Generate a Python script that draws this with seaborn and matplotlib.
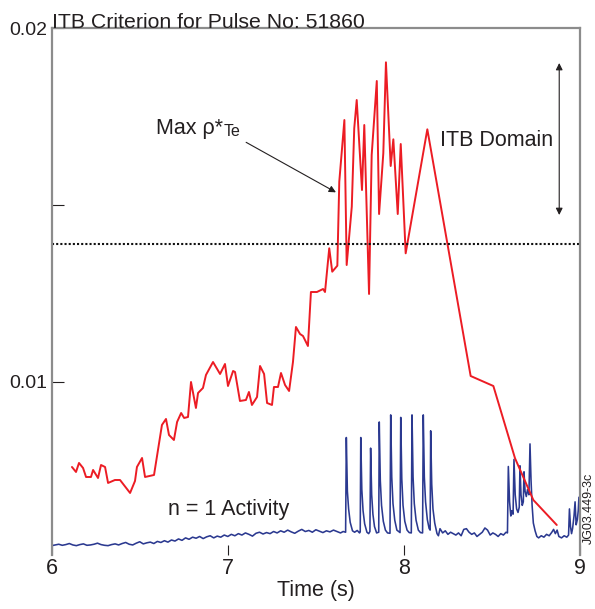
import numpy as np
import pandas as pd
import matplotlib
matplotlib.use("Agg")
import matplotlib.pyplot as plt
import seaborn as sns

# ---------------- data ----------------
# Max rho*_Te criterion (values in units of 1e-3)
red_t = [6.115, 6.138, 6.155, 6.178, 6.195, 6.223, 6.235, 6.263, 6.280, 6.303,
         6.320, 6.359, 6.388, 6.445, 6.473, 6.484, 6.513, 6.530, 6.581, 6.626,
         6.649, 6.666, 6.694, 6.712, 6.735, 6.752, 6.774, 6.791, 6.819, 6.831,
         6.859, 6.876, 6.916, 6.956, 6.984, 7.001, 7.030, 7.041, 7.069, 7.103,
         7.120, 7.137, 7.166, 7.183, 7.206, 7.223, 7.251, 7.262, 7.285, 7.302,
         7.325, 7.348, 7.370, 7.387, 7.410, 7.427, 7.455, 7.472, 7.506, 7.541,
         7.552, 7.576, 7.593, 7.622, 7.633, 7.662, 7.675, 7.704, 7.718, 7.732,
         7.762, 7.775, 7.802, 7.817, 7.846, 7.859, 7.883, 7.898, 7.925, 7.940,
         7.965, 7.982, 8.010, 8.133, 8.379, 8.508, 8.631, 8.735, 8.868]
red_v_e3 = [7.586, 7.445, 7.700, 7.558, 7.303, 7.303, 7.502, 7.275, 7.643, 7.586,
            7.134, 7.218, 7.218, 6.851, 7.190, 7.586, 7.841, 7.303, 7.360, 8.775,
            8.945, 8.492, 8.350, 8.860, 9.114, 8.973, 9.001, 9.992, 9.256, 9.680,
            9.822, 10.190, 10.557, 10.218, 10.501, 9.878, 10.303, 10.275, 9.454, 9.482,
            9.709, 9.341, 9.567, 10.444, 10.218, 9.397, 9.341, 9.850, 9.850, 10.246,
            9.907, 9.737, 10.557, 11.548, 11.350, 11.293, 11.010, 12.538, 12.538, 12.623,
            12.538, 13.775, 13.113, 13.282, 15.659, 17.405, 13.302, 14.952, 17.170, 17.971,
            15.424, 17.264, 12.482, 16.415, 18.509, 14.745, 16.463, 19.038, 16.104, 16.859,
            14.745, 16.726, 13.633, 17.142, 10.161, 9.878, 7.832, 6.652, 5.945]

# n = 1 activity trace (values in units of 1e-3 on the same axis)
blue_t = [6.00, 6.02, 6.04, 6.06, 6.08, 6.10, 6.12, 6.14, 6.16, 6.18, 6.20, 6.22,
          6.24, 6.26, 6.28, 6.30, 6.32, 6.34, 6.36, 6.38, 6.40, 6.42, 6.44, 6.46,
          6.48, 6.50, 6.52, 6.54, 6.56, 6.58, 6.60, 6.62, 6.64,
          6.66, 6.68, 6.70, 6.72, 6.74, 6.76, 6.78, 6.80, 6.82, 6.84, 6.86, 6.88,
          6.90, 6.92, 6.94, 6.96, 6.98, 7.00,
          7.02, 7.04, 7.06, 7.08, 7.10, 7.12, 7.14, 7.16, 7.18, 7.20, 7.22, 7.24,
          7.26, 7.28, 7.30, 7.32, 7.34, 7.36, 7.38, 7.40, 7.42, 7.44, 7.46, 7.48,
          7.50, 7.52, 7.54, 7.56, 7.58, 7.60, 7.62, 7.64,
          7.655, 7.669, 7.673, 7.679, 7.686, 7.695, 7.708, 7.720, 7.735, 7.748,
          7.752, 7.755, 7.761, 7.768, 7.777, 7.790, 7.800, 7.807,
          7.811, 7.817, 7.824, 7.833, 7.845, 7.857,
          7.860, 7.866, 7.873, 7.883, 7.895, 7.907, 7.921,
          7.925, 7.931, 7.938, 7.948, 7.960, 7.978,
          7.982, 7.988, 7.995, 8.005, 8.018, 8.030, 8.042,
          8.046, 8.052, 8.059, 8.069, 8.082, 8.094, 8.106,
          8.110, 8.116, 8.123, 8.133, 8.143, 8.149,
          8.152, 8.158, 8.165, 8.175, 8.188, 8.196,
          8.205, 8.220, 8.235, 8.250, 8.265, 8.280, 8.295, 8.310, 8.325, 8.340,
          8.355, 8.370, 8.385, 8.400, 8.415, 8.430, 8.445, 8.460, 8.475, 8.490,
          8.505, 8.520, 8.535, 8.550, 8.565, 8.580, 8.588,
          8.593, 8.600, 8.607, 8.612, 8.620, 8.625, 8.632, 8.640, 8.648, 8.655,
          8.659, 8.665, 8.672, 8.678, 8.682, 8.688, 8.695, 8.702, 8.710, 8.716,
          8.722, 8.728, 8.735, 8.745, 8.755,
          8.765, 8.780, 8.795, 8.810, 8.825, 8.840, 8.850, 8.860, 8.870, 8.880,
          8.895, 8.910, 8.925, 8.935,
          8.940, 8.946, 8.952, 8.958, 8.966, 8.972, 8.978, 8.985, 8.990, 8.994, 9.000]
blue_v_e3 = [5.36, 5.38, 5.40, 5.37, 5.39, 5.42, 5.38, 5.36, 5.39, 5.41, 5.37, 5.38,
             5.40, 5.43, 5.39, 5.37, 5.36, 5.39, 5.41, 5.38, 5.42, 5.45, 5.40, 5.38,
             5.43, 5.47, 5.41, 5.44, 5.46, 5.42, 5.48, 5.45, 5.50,
             5.46, 5.52, 5.49, 5.55, 5.51, 5.58, 5.54, 5.60, 5.57, 5.62, 5.56, 5.61,
             5.64, 5.58, 5.63, 5.60, 5.66, 5.62,
             5.68, 5.64, 5.70, 5.66, 5.72, 5.68, 5.63, 5.71, 5.74, 5.69, 5.73, 5.70,
             5.76, 5.72, 5.78, 5.74, 5.80, 5.75, 5.71, 5.77, 5.82, 5.76, 5.79, 5.74,
             5.81, 5.77, 5.73, 5.78, 5.75, 5.80, 5.76, 5.72,
             5.76, 5.74, 8.42, 6.90, 6.40, 6.02, 5.78, 5.74, 5.79, 5.72,
             5.75, 8.42, 6.95, 6.35, 5.98, 5.74, 5.70, 5.76,
             8.12, 6.80, 6.25, 5.90, 5.72, 5.74,
             8.86, 7.20, 6.50, 6.05, 5.80, 5.72, 5.71,
             9.06, 7.30, 6.55, 6.08, 5.80, 5.73,
             8.99, 7.25, 6.50, 6.05, 5.80, 5.73, 5.72,
             9.06, 7.30, 6.55, 6.08, 5.80, 5.73, 5.72,
             9.06, 7.30, 6.60, 6.10, 5.85, 5.80,
             8.61, 7.10, 6.40, 6.00, 5.70, 5.64,
             5.84, 5.72, 5.78, 5.68, 5.74, 5.70, 5.66, 5.72, 5.64, 5.82,
             5.84, 5.74, 5.68, 5.72, 5.62, 5.68, 5.74, 5.86, 5.80, 5.66,
             5.72, 5.68, 5.62, 5.70, 5.66, 5.74, 5.72,
             7.60, 6.60, 6.20, 6.35, 6.25, 7.80, 6.80, 6.40, 6.30, 6.45,
             7.62, 6.80, 6.50, 6.60, 7.45, 6.90, 6.75, 6.95, 6.80, 8.24,
             7.20, 6.50, 6.00, 5.78, 5.62,
             5.58, 5.64, 5.60, 5.68, 5.64, 5.74, 5.82, 5.70, 5.80, 5.62,
             5.58, 5.64, 5.60, 5.66,
             6.40, 5.90, 5.70, 5.85, 6.20, 6.60, 5.95, 6.10, 6.35, 6.73, 6.30]

threshold = 0.013896
x_ticks = [6, 7, 8, 9]
x_ticklabels = ["6", "7", "8", "9"]
y_ticks = [0.01, 0.015, 0.02]
y_ticklabels = ["0.01", "", "0.02"]

# ---------------- style ----------------
sns.set_theme(style="white")
plt.rcParams["font.family"] = ["Liberation Sans", "DejaVu Sans"]
TXT = "#231f20"

fig = plt.figure(figsize=(5.95, 6.09), dpi=100)
ax = fig.add_axes([0.0869, 0.0887, 0.8879, 0.8648])

red_df = pd.DataFrame({"t": red_t, "v": np.array(red_v_e3) * 1e-3})
blue_df = pd.DataFrame({"t": blue_t, "v": np.array(blue_v_e3) * 1e-3})

sns.lineplot(data=blue_df, x="t", y="v", ax=ax, color="#2b3990", lw=1.15,
             sort=False, estimator=None)
sns.lineplot(data=red_df, x="t", y="v", ax=ax, color="#ec1c24", lw=1.4,
             sort=False, estimator=None)

ax.axhline(threshold, color="#111111", lw=1.5, ls=(0, (1, 1)))

ax.set_xlim(6, 9)
ax.set_ylim(0.005096, 0.02)

for s in ["left", "top", "right"]:
    ax.spines[s].set_color("#8c8c8c")
    ax.spines[s].set_linewidth(1.6)
ax.spines["bottom"].set_visible(False)

ax.set_xticks(x_ticks)
ax.set_xticklabels(x_ticklabels)
ax.set_yticks(y_ticks)
ax.set_yticklabels(y_ticklabels)
ax.tick_params(axis="x", bottom=True, direction="in", length=7.5, width=0.8,
               color=TXT, labelsize=15.5, labelcolor=TXT, pad=2)
ax.tick_params(axis="y", left=True, direction="in", length=8.5, width=0.8,
               color=TXT, labelsize=14, labelcolor=TXT, pad=3.5)

ax.set_xlabel("Time (s)", fontsize=15.5, color=TXT, labelpad=1)
ax.set_ylabel("")

ax.text(0.0, 1.0, "ITB Criterion for Pulse No: 51860", transform=ax.transAxes,
        ha="left", va="baseline", fontsize=15.3, color=TXT)

ax.text(8.205, 0.016839, "ITB Domain", fontsize=15.5, va="center", ha="left", color=TXT)
ax.text(6.662, 0.00637, "n = 1 Activity", fontsize=15.5, va="center", ha="left", color=TXT)

t1 = ax.text(6.592, 0.01717, "Max ρ*", fontsize=15.5, va="center", ha="left", color=TXT)
ax.annotate("Te", xy=(1, 0), xycoords=t1, xytext=(0.5, 0), textcoords="offset points",
            fontsize=11.5, va="bottom", ha="left", color=TXT)

ax.annotate("", xy=(7.614, 0.015359), xytext=(7.104, 0.016774),
            arrowprops=dict(arrowstyle="-|>", color=TXT, lw=0.8, mutation_scale=10,
                            shrinkA=0, shrinkB=0))
ax.annotate("", xy=(8.882, 0.019018), xytext=(8.882, 0.014717),
            arrowprops=dict(arrowstyle="<|-|>", color=TXT, lw=0.8, mutation_scale=10,
                            shrinkA=0, shrinkB=0))

fig.text(0.990, 0.166, "JG03.449-3c", rotation=90, fontsize=9, ha="center",
         va="center", color=TXT)

fig.savefig("out.png", dpi=100)
